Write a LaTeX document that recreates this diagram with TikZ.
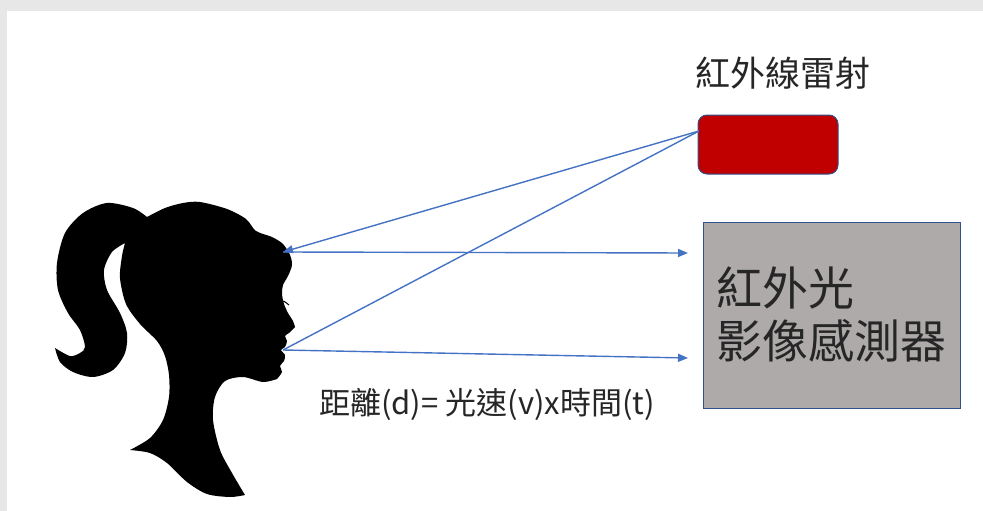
\documentclass[tikz,border=0pt]{standalone}
\usepackage{fontspec}
\setmainfont{Noto Sans CJK TC}
\usetikzlibrary{arrows.meta, positioning}
\definecolor{laserred}{RGB}{192, 0, 0}
\definecolor{beamblue}{RGB}{68, 114, 196}
\definecolor{edgeblue}{RGB}{47, 82, 143}
\definecolor{sensorgray}{RGB}{174, 170, 170}
\definecolor{framegray}{RGB}{231, 231, 232}
\definecolor{inkgray}{RGB}{38, 38, 38}

\begin{document}
\begin{tikzpicture}[x=1pt, y=-1pt,
    beam/.style={beamblue, line width=1.4pt},
    tipped/.style={-{Triangle[length=10pt, width=8pt]}},
    caption/.style={text=inkgray, inner sep=0pt}]
  \useasboundingbox (0,0) rectangle (983,511);

  % Window frame
  \fill[framegray] (0,0) rectangle (983,11);
  \fill[framegray] (0,0) rectangle (7,511);

  % ---- Head in profile ----
  \fill[black]
    plot[smooth] coordinates {(147,217) (165,208) (183,203) (200,202)
      (227,209) (246,219) (256,231) (272,237) (283,244) (290,255)
      (292,265) (288,276) (283,285) (282,294) (284,304) (288,313)
      (293,321) (295,327)}
    -- plot[smooth] coordinates {(295,327) (289,333) (285,336) (287,341)
      (285,347) (281,350) (285,355) (284,361) (280,366) (282,372)
      (277,379)}
    -- plot[smooth] coordinates {(277,379) (263,382) (243,377) (225,381)
      (215,397) (213,420) (220,450) (232,473) (245,495)}
    -- plot[smooth] coordinates {(245,495) (230,497) (207,494) (187,482)
      (167,463) (150,453) (130,450)}
    -- plot[smooth] coordinates {(130,450) (150,438) (163,420) (169,397)
      (169,375) (165,356) (157,341) (140,324) (126,304) (120,278)
      (122,256) (125,243)}
    -- plot[smooth] coordinates {(125,243) (112,252) (104,270) (107,290)
      (120,313) (127,333) (125,353) (113,370) (93,377) (73,372)
      (60,362) (55,348)}
    -- plot[smooth] coordinates {(55,348) (70,356) (80,353) (85,347)
      (80,330) (68,313) (58,290) (57,263) (65,233) (83,213) (107,203)
      (133,208) (147,217)}
    -- cycle;
  \draw[line width=1pt] (281,301) .. controls (284,301) .. (289,305);

  % Points on the face and in front of the sensor
  \coordinate (brow) at (283,252);
  \coordinate (lips) at (283,350);
  \coordinate (port) at (699,131);
  \coordinate (hitA) at (688,253);
  \coordinate (hitB) at (688,358);

  % ---- Laser and sensor ----
  \node[draw=edgeblue, fill=laserred, line width=1pt, rounded corners=9pt,
        minimum width=140pt, minimum height=59pt] (laser) at (768,144.5) {};
  \node[caption, font=\fontsize{35}{42}\selectfont] (lasertext)
    at (783,73) {紅外線雷射};
  \node[draw=edgeblue, fill=sensorgray, line width=1pt, inner sep=0pt,
        minimum width=257pt, minimum height=186pt, align=left,
        text=inkgray, font=\fontsize{46}{53}\selectfont] (sensor)
    at (831.5,315) {紅外光\\影像感測器};

  % ---- Beams ----
  \draw[beam, tipped] (port) -- (brow);
  \draw[beam] (port) -- (lips);
  \draw[beam, tipped] (brow) -- (hitA);
  \draw[beam, tipped] (lips) -- (hitB);

  \node[caption, font=\fontsize{31}{37}\selectfont] (formula) at (487,404)
    {距離(d)= 光速(v)x時間(t)};
\end{tikzpicture}
\end{document}
